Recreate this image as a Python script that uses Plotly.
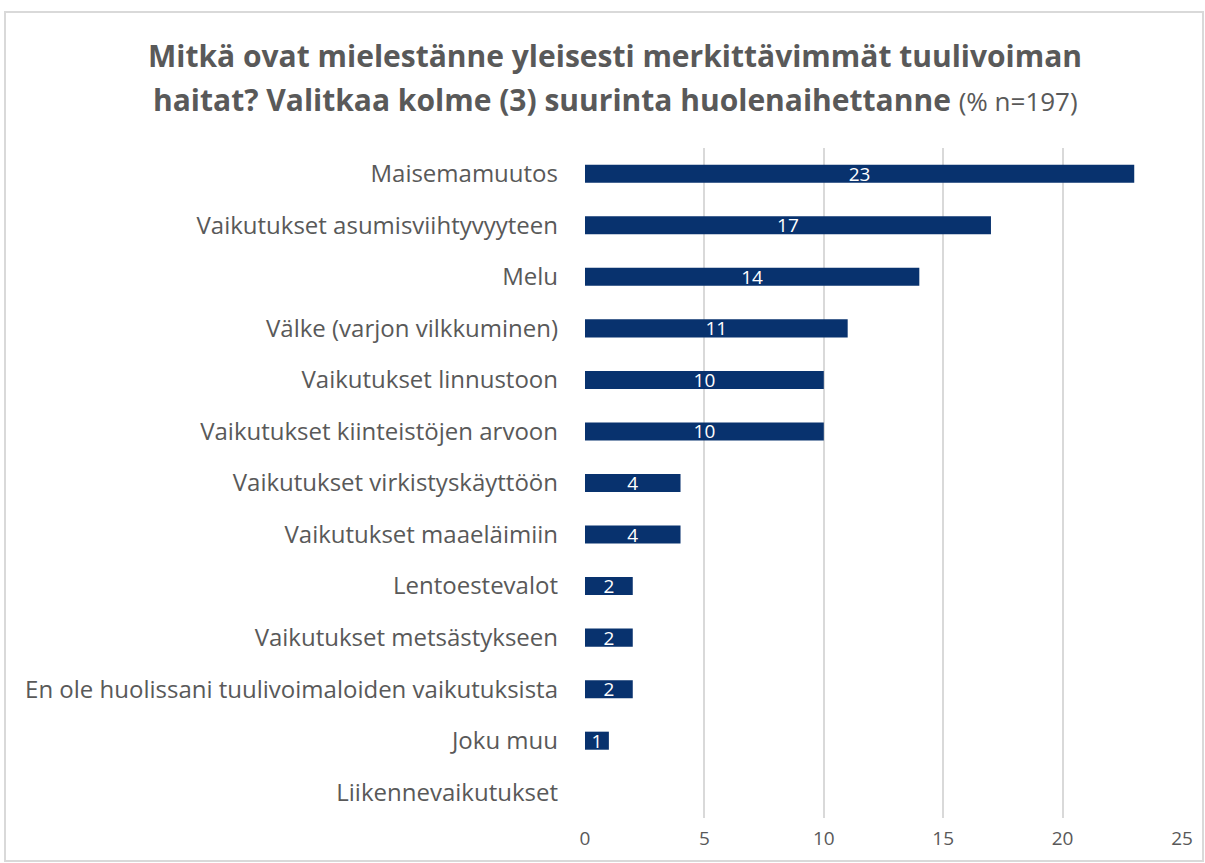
import plotly.graph_objects as go

categories = [
    "Maisemamuutos",
    "Vaikutukset asumisviihtyvyyteen",
    "Melu",
    "Välke (varjon vilkkuminen)",
    "Vaikutukset linnustoon",
    "Vaikutukset kiinteistöjen arvoon",
    "Vaikutukset virkistyskäyttöön",
    "Vaikutukset maaeläimiin",
    "Lentoestevalot",
    "Vaikutukset metsästykseen",
    "En ole huolissani tuulivoimaloiden vaikutuksista",
    "Joku muu",
    "Liikennevaikutukset",
]
values = [23, 17, 14, 11, 10, 10, 4, 4, 2, 2, 2, 1, 0]
x_ticks = [0, 5, 10, 15, 20, 25]

FONT = "Open Sans"
GRAY = "#595959"
BAR = "#08326e"

labels = [str(v) if v > 0 else "" for v in values]

fig = go.Figure(go.Bar(
    y=categories[::-1],
    x=values[::-1],
    orientation="h",
    marker=dict(color=BAR, line=dict(width=0)),
    width=0.35,
    text=labels[::-1],
    textposition="inside",
    insidetextanchor="middle",
    textangle=0,
    constraintext="none",
    textfont=dict(color="white", size=19, family=FONT),
    cliponaxis=False,
))

fig.update_layout(
    width=1205, height=863,
    margin=dict(l=585, r=23, t=148, b=45),
    paper_bgcolor="white", plot_bgcolor="white",
    showlegend=False,
    font=dict(family=FONT, color=GRAY),
    xaxis=dict(range=[0, 25], tickvals=x_ticks, showgrid=True, gridcolor="#d9d9d9",
               gridwidth=2, zeroline=False, showline=False,
               tickfont=dict(size=19, color=GRAY, family=FONT), ticks="", ticklabelstandoff=7),
    yaxis=dict(showgrid=False, zeroline=False, showline=False, ticks="",
               tickfont=dict(size=24, color=GRAY, family=FONT), ticklabelstandoff=26),
    bargap=0.65,
)

fig.add_annotation(xref="paper", yref="paper", x=0.051, y=(818 - 55) / 670, xanchor="center",
                   yanchor="middle", showarrow=False,
                   text="<b>Mitkä ovat mielestänne yleisesti merkittävimmät tuulivoiman</b>",
                   font=dict(size=30, color=GRAY, family=FONT))
fig.add_annotation(xref="paper", yref="paper", x=0.051, y=(818 - 100) / 670, xanchor="center",
                   yanchor="middle", showarrow=False,
                   text="<b>haitat? Valitkaa kolme (3) suurinta huolenaihettanne</b> <span style='font-size:26px'>(% n=197)</span>",
                   font=dict(size=30, color=GRAY, family=FONT))

fig.add_shape(type="rect", xref="paper", yref="paper",
              x0=(5 - 585) / 597, x1=(1203 - 585) / 597,
              y0=(818 - 861) / 670, y1=(818 - 12) / 670,
              line=dict(color="#d9d9d9", width=2), fillcolor="rgba(0,0,0,0)", layer="below")

fig.write_html("out.html", config={"displayModeBar": False},
               post_script="document.body.style.margin='0';document.body.style.overflow='hidden';")
